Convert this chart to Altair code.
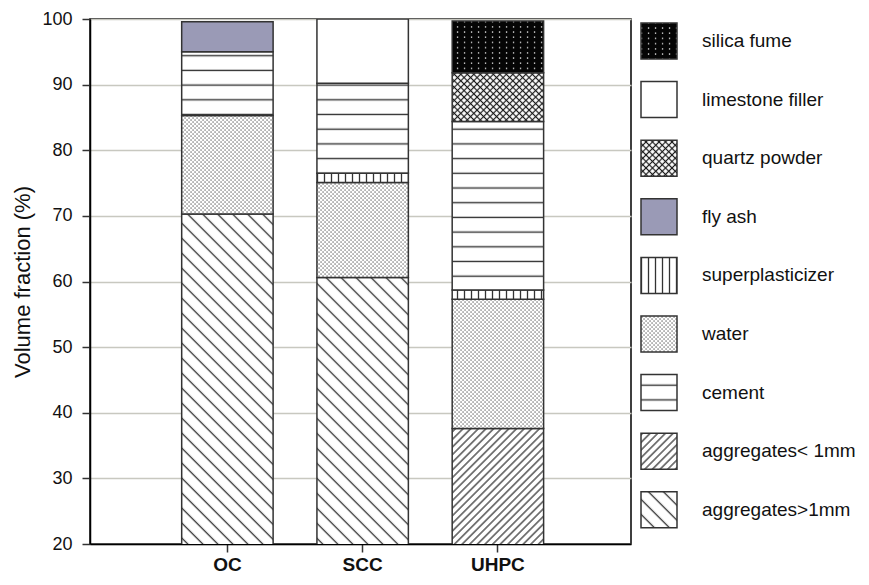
import altair as alt
import pandas as pd
import jinja2

# ---------------- data ----------------
mixes = ["OC", "SCC", "UHPC"]
# stacking order, bottom -> top
materials = ["aggregates>1mm", "aggregates< 1mm", "water", "superplasticizer",
             "cement", "fly ash", "quartz powder", "limestone filler", "silica fume"]
oc_values = [70.3, 0.0, 15.0, 0.0, 9.7, 4.6, 0.0, 0.0, 0.0]
scc_values = [60.6, 0.0, 14.5, 1.4, 13.7, 0.0, 0.0, 9.8, 0.0]
uhpc_values = [0.0, 37.6, 19.7, 1.4, 25.7, 0.0, 7.4, 0.0, 7.9]
# legend order, top -> bottom
legend_order = ["silica fume", "limestone filler", "quartz powder", "fly ash",
                "superplasticizer", "water", "cement", "aggregates< 1mm", "aggregates>1mm"]
pattern_ids = ["pSilica", "pLime", "pQuartz", "pFly", "pSP", "pWater", "pCement",
               "pAggS", "pAggL"]
y_ticks = [20, 30, 40, 50, 60, 70, 80, 90, 100]

rows = []
for mix, vals in zip(mixes, [oc_values, scc_values, uhpc_values]):
    for i, (mat, v) in enumerate(zip(materials, vals)):
        if v > 0:
            rows.append({"mix": mix, "material": mat, "value": v, "ord": i})
df = pd.DataFrame(rows)

fill_range = ["url(#%s)" % p for p in pattern_ids]

bars = alt.Chart(df).mark_bar(stroke="#333333", strokeWidth=1.5, clip=True).encode(
    x=alt.X("mix:N", sort=mixes, title=None,
            scale=alt.Scale(paddingInner=0.324, paddingOuter=0.662, align=0.512),
            axis=alt.Axis(labelAngle=0, labelFontSize=19, labelFontWeight="bold",
                          labelColor="#111111", tickSize=8, labelPadding=3,
                          domainColor="black", domainWidth=1.5, tickColor="#333333",
                          tickWidth=1.5, grid=False)),
    y=alt.Y("value:Q", stack="zero", title="Volume fraction (%)",
            scale=alt.Scale(domain=[20, 100], nice=False, zero=False),
            axis=alt.Axis(values=y_ticks, labelFontSize=18, labelColor="#111111",
                          tickSize=8, labelPadding=10, titleFontSize=22,
                          titleFontWeight="normal", titleColor="#111111", titlePadding=7,
                          gridColor="#c8c8c0", gridWidth=1.5, domainColor="black",
                          domainWidth=1.5, tickColor="#333333", tickWidth=1.5)),
    fill=alt.Fill("material:N",
                  scale=alt.Scale(domain=legend_order, range=fill_range),
                  legend=alt.Legend(title=None, orient="none", legendX=550, legendY=3,
                                    symbolType="square", symbolSize=1296,
                                    symbolStrokeColor="#333333", symbolStrokeWidth=1.5,
                                    symbolOpacity=1, labelFontSize=19,
                                    labelColor="#111111", labelOffset=24, rowPadding=16.6,
                                    padding=0)),
    order=alt.Order("ord:Q", sort="ascending"),
)

chart = bars.properties(
    width=541, height=525,
    padding={"left": 82, "top": 11, "right": 230, "bottom": 33},
    autosize=alt.AutoSizeParams(type="none"),
).configure(
    font="Liberation Sans",
).configure_view(
    stroke="black", strokeWidth=1.5,
)

# page template: standard CDN scripts plus SVG pattern definitions used as fills
TEMPLATE = jinja2.Template("""<!DOCTYPE html>
<html>
<head>
<meta charset="utf-8">
<style>
  #{{ output_div }}.vega-embed { width: 100%; display: flex; }
</style>
<script type="text/javascript" src="{{ base_url }}/vega@{{ vega_version }}"></script>
<script type="text/javascript" src="{{ base_url }}/vega-lite@{{ vegalite_version }}"></script>
<script type="text/javascript" src="{{ base_url }}/vega-embed@{{ vegaembed_version }}"></script>
</head>
<body>
<svg width="0" height="0" style="position:absolute;left:0;top:0" aria-hidden="true">
<defs>
  <pattern id="pAggL" patternUnits="userSpaceOnUse" width="10.6" height="10.6" patternTransform="rotate(-45)">
    <rect width="10.6" height="10.6" fill="white"/>
    <line x1="5.3" y1="-1" x2="5.3" y2="12" stroke="#2a2a2a" stroke-width="1.3"/>
  </pattern>
  <pattern id="pAggS" patternUnits="userSpaceOnUse" width="5.4" height="5.4" patternTransform="rotate(45)">
    <rect width="5.4" height="5.4" fill="white"/>
    <line x1="2.7" y1="-1" x2="2.7" y2="7" stroke="#2a2a2a" stroke-width="1.2"/>
  </pattern>
  <pattern id="pCement" patternUnits="userSpaceOnUse" width="10" height="14.7">
    <rect width="10" height="14.7" fill="white"/>
    <line x1="-1" y1="7.3" x2="11" y2="7.3" stroke="#333333" stroke-width="1.4"/>
  </pattern>
  <pattern id="pWater" patternUnits="userSpaceOnUse" width="4" height="4">
    <rect width="4" height="4" fill="white"/>
    <rect x="0.4" y="0.4" width="1.3" height="1.3" fill="#666666"/>
    <rect x="2.4" y="2.4" width="1.3" height="1.3" fill="#666666"/>
  </pattern>
  <pattern id="pSP" patternUnits="userSpaceOnUse" width="7" height="10">
    <rect width="7" height="10" fill="white"/>
    <line x1="3.5" y1="-1" x2="3.5" y2="11" stroke="#333333" stroke-width="1.3"/>
  </pattern>
  <pattern id="pFly" patternUnits="userSpaceOnUse" width="10" height="10">
    <rect width="10" height="10" fill="#9a9ab6"/>
  </pattern>
  <pattern id="pQuartz" patternUnits="userSpaceOnUse" width="4.6" height="4.6" patternTransform="rotate(45)">
    <rect width="4.6" height="4.6" fill="white"/>
    <line x1="2.3" y1="-1" x2="2.3" y2="6" stroke="#1a1a1a" stroke-width="1.2"/>
    <line x1="-1" y1="2.3" x2="6" y2="2.3" stroke="#1a1a1a" stroke-width="1.2"/>
  </pattern>
  <pattern id="pLime" patternUnits="userSpaceOnUse" width="10" height="10">
    <rect width="10" height="10" fill="white"/>
  </pattern>
  <pattern id="pSilica" patternUnits="userSpaceOnUse" width="7" height="5.2">
    <rect width="7" height="5.2" fill="#050505"/>
    <rect x="2.9" y="2" width="1.3" height="1.3" fill="#e8e8e8"/>
  </pattern>
</defs>
</svg>
<div id="{{ output_div }}"></div>
<script>
  vegaEmbed("#{{ output_div }}", {{ spec }}, {{ embed_options }}).catch(function (e) {
    document.getElementById("{{ output_div }}").innerHTML = '<p style="color:red">' + e.message + '</p>';
  });
</script>
</body>
</html>
""")

chart.save("out.html", embed_options={"renderer": "svg", "actions": False}, template=TEMPLATE)
